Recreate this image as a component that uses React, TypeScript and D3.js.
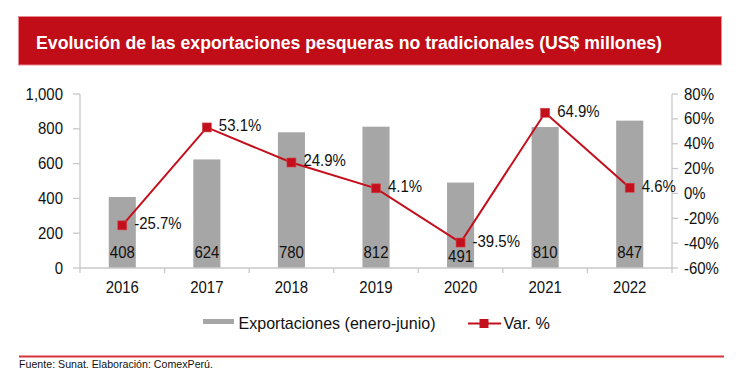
import React from "react";
import * as d3 from "d3";

const years = ["2016", "2017", "2018", "2019", "2020", "2021", "2022"];
const exportsValues = [408, 624, 780, 812, 491, 810, 847];
const varPct = [-25.7, 53.1, 24.9, 4.1, -39.5, 64.9, 4.6];
const leftTicks = [0, 200, 400, 600, 800, 1000];
const rightTicks = [-60, -40, -20, 0, 20, 40, 60, 80];
const titleText = "Evolución de las exportaciones pesqueras no tradicionales (US$ millones)";
const legendBars = "Exportaciones (enero-junio)";
const legendLine = "Var. %";
const sourceText = "Fuente: Sunat. Elaboración: ComexPerú.";

const FONT = "'Liberation Sans', Arial, sans-serif";
const RED = "#c00d17";
const LINE_RED = "#c3101c";
const BAR = "#a6a6a6";
const AXIS = "#c8c8c8";
const SX = 0.88;

function T(props: {
  x: number;
  y: number;
  anchor?: "start" | "middle" | "end";
  size?: number;
  sx?: number;
  children: React.ReactNode;
}) {
  const { x, y, anchor = "start", size = 17, sx = SX, children } = props;
  return (
    <text
      transform={`translate(${x},${y}) scale(${sx},1)`}
      textAnchor={anchor}
      fontSize={size}
      fontFamily={FONT}
      fill="#111"
    >
      {children}
    </text>
  );
}

export default function App() {
  const W = 742;
  const H = 383;
  const left = 80;
  const right = 672;
  const top = 94;
  const bottom = 268;

  const x = d3
    .scaleBand<string>()
    .domain(years)
    .range([left, right])
    .paddingInner(0.68)
    .paddingOuter(0.34);
  const yL = d3.scaleLinear().domain([0, 1000]).range([bottom, top]);
  const yR = d3.scaleLinear().domain([-60, 80]).range([bottom, top]);
  const fmtL = d3.format(",");
  const fmtP = (v: number) => d3.format(".1f")(v).replace("\u2212", "-") + "%";
  const step = x.step();
  const cx = (y: string) => (x(y) as number) + x.bandwidth() / 2;

  const linePath = d3
    .line<number>()
    .x((_, i) => cx(years[i]))
    .y((d) => yR(d))(varPct) as string;

  const boundaries = d3.range(years.length + 1).map((i) => left + i * step);

  return (
    <svg
      width={W}
      height={H}
      style={{ position: "absolute", left: 0, top: 0, background: "#fff" }}
    >
      <rect x={0} y={0} width={W} height={H} fill="#fff" />
      {/* Title band */}
      <rect x={18.5} y={16.5} width={703} height={48.5} fill={RED} stroke="#e98a90" strokeWidth={1} />
      <text
        x={36}
        y={48.5}
        fontSize={18}
        fontWeight="bold"
        fontFamily={FONT}
        fill="#fff"
        textLength={626}
        lengthAdjust="spacingAndGlyphs"
      >
        {titleText}
      </text>

      {/* Bars */}
      {years.map((yr, i) => (
        <rect
          key={yr}
          x={x(yr)}
          y={yL(exportsValues[i])}
          width={x.bandwidth()}
          height={bottom - yL(exportsValues[i])}
          fill={BAR}
        />
      ))}

      {/* Axes */}
      <line x1={left} x2={left} y1={top} y2={bottom} stroke={AXIS} strokeWidth={1.3} />
      {leftTicks.map((t) => (
        <g key={"l" + t}>
          <line x1={left - 7} x2={left} y1={yL(t)} y2={yL(t)} stroke={AXIS} strokeWidth={1.3} />
          <T x={63} y={yL(t) + 5.5} anchor="end">
            {fmtL(t)}
          </T>
        </g>
      ))}
      <line x1={right} x2={right} y1={top} y2={bottom} stroke={AXIS} strokeWidth={1.3} />
      {rightTicks.map((t) => (
        <g key={"r" + t}>
          <line x1={right} x2={right + 6} y1={yR(t)} y2={yR(t)} stroke={AXIS} strokeWidth={1.3} />
          <T x={684} y={yR(t) + 5.5}>
            {t + "%"}
          </T>
        </g>
      ))}
      <line x1={left} x2={right} y1={bottom} y2={bottom} stroke={AXIS} strokeWidth={1.3} />
      {boundaries.map((b, i) => (
        <line key={"b" + i} x1={b} x2={b} y1={bottom} y2={bottom + 5} stroke={AXIS} strokeWidth={1.3} />
      ))}
      {years.map((yr) => (
        <T key={"y" + yr} x={cx(yr)} y={293} anchor="middle">
          {yr}
        </T>
      ))}

      {/* Bar value labels */}
      {years.map((yr, i) => {
        const my = yR(varPct[i]);
        const base = Math.max(257.5, my + 19.5);
        return (
          <T key={"v" + yr} x={cx(yr)} y={base} anchor="middle">
            {exportsValues[i]}
          </T>
        );
      })}

      {/* Line */}
      <path d={linePath} fill="none" stroke={LINE_RED} strokeWidth={2} />
      {years.map((yr, i) => (
        <rect
          key={"m" + yr}
          x={cx(yr) - 4.5}
          y={yR(varPct[i]) - 4.5}
          width={9}
          height={9}
          fill={LINE_RED}
          stroke="#d2464e"
          strokeWidth={0.6}
        />
      ))}
      {years.map((yr, i) => (
        <T key={"p" + yr} x={cx(yr) + 12} y={yR(varPct[i]) + 4}>
          {fmtP(varPct[i])}
        </T>
      ))}

      {/* Legend */}
      <rect x={203} y={319} width={31} height={5} fill={BAR} />
      <text
        x={238.5}
        y={328.5}
        fontSize={17}
        fontFamily={FONT}
        fill="#111"
        textLength={197}
        lengthAdjust="spacingAndGlyphs"
      >
        {legendBars}
      </text>
      <line x1={468} x2={501} y1={323.5} y2={323.5} stroke={LINE_RED} strokeWidth={2} />
      <rect x={479.5} y={319} width={9} height={9} fill={LINE_RED} />
      <text
        x={503.5}
        y={328.5}
        fontSize={17}
        fontFamily={FONT}
        fill="#111"
        textLength={46.5}
        lengthAdjust="spacingAndGlyphs"
      >
        {legendLine}
      </text>

      {/* Footer */}
      <line x1={19} x2={724} y1={356.5} y2={356.5} stroke="#d5333d" strokeWidth={2.2} />
      <text
        x={19}
        y={367.5}
        fontSize={11}
        fontFamily={FONT}
        fill="#111"
        textLength={194}
        lengthAdjust="spacingAndGlyphs"
      >
        {sourceText}
      </text>
    </svg>
  );
}
